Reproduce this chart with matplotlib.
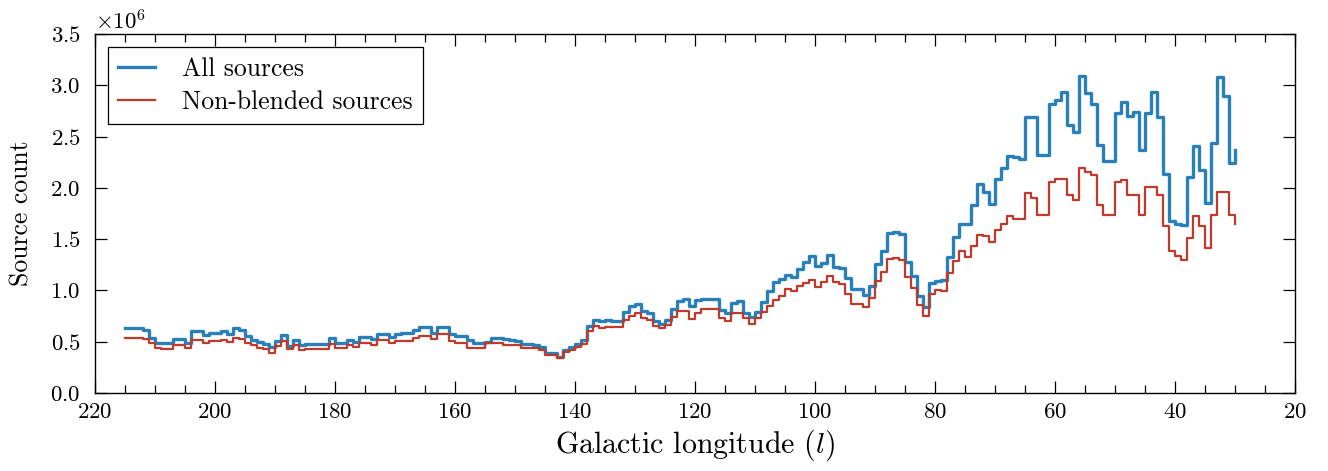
import numpy as np
import matplotlib
matplotlib.use("Agg")
import matplotlib.pyplot as plt
from matplotlib.ticker import MultipleLocator, ScalarFormatter

plt.rcParams['font.family'] = 'serif'
plt.rcParams['font.serif'] = ['cmr10', 'DejaVu Serif']
plt.rcParams['mathtext.fontset'] = 'cm'
plt.rcParams['axes.formatter.use_mathtext'] = True

# galactic longitude of each bin edge (1 deg bins, 215 -> 30)
longitude = np.arange(215, 29, -1)

# source counts per bin, in millions
all_sources = [
    0.63, 0.63, 0.63, 0.61, 0.54, 0.49, 0.49, 0.49, 0.53, 0.53,
    0.49, 0.60, 0.60, 0.57, 0.59, 0.59, 0.60, 0.58, 0.63, 0.61,
    0.56, 0.52, 0.50, 0.48, 0.45, 0.51, 0.57, 0.46, 0.52, 0.47,
    0.48, 0.48, 0.48, 0.48, 0.54, 0.49, 0.49, 0.52, 0.50, 0.55,
    0.55, 0.53, 0.58, 0.58, 0.55, 0.58, 0.59, 0.59, 0.61, 0.64,
    0.64, 0.59, 0.64, 0.64, 0.58, 0.56, 0.56, 0.52, 0.49, 0.49,
    0.50, 0.54, 0.54, 0.53, 0.52, 0.51, 0.48, 0.48, 0.47, 0.45,
    0.39, 0.39, 0.35, 0.42, 0.45, 0.48, 0.52, 0.65, 0.71, 0.70,
    0.71, 0.70, 0.70, 0.79, 0.85, 0.87, 0.80, 0.78, 0.70, 0.67,
    0.71, 0.82, 0.90, 0.92, 0.85, 0.91, 0.92, 0.92, 0.92, 0.81,
    0.78, 0.88, 0.90, 0.78, 0.74, 0.79, 0.89, 0.99, 1.08, 1.11,
    1.15, 1.13, 1.21, 1.28, 1.34, 1.24, 1.27, 1.35, 1.23, 1.22,
    1.12, 1.01, 1.01, 0.96, 1.04, 1.26, 1.38, 1.56, 1.57, 1.55,
    1.28, 1.14, 0.95, 0.84, 1.07, 1.09, 1.10, 1.33, 1.52, 1.65,
    1.65, 1.83, 2.04, 1.96, 1.84, 2.09, 2.19, 2.31, 2.30, 2.28,
    2.69, 2.69, 2.32, 2.32, 2.82, 2.86, 2.94, 2.61, 2.55, 3.09,
    2.93, 2.82, 2.42, 2.26, 2.26, 2.73, 2.84, 2.70, 2.74, 2.37,
    2.73, 2.94, 2.69, 2.14, 1.68, 1.65, 1.64, 2.11, 2.41, 2.17,
    1.85, 2.44, 3.08, 2.90, 2.24,
    2.37,
]

non_blended = [
    0.54, 0.54, 0.54, 0.53, 0.49, 0.44, 0.43, 0.43, 0.47, 0.47,
    0.44, 0.52, 0.52, 0.49, 0.51, 0.51, 0.52, 0.50, 0.54, 0.53,
    0.49, 0.47, 0.44, 0.43, 0.39, 0.46, 0.51, 0.43, 0.47, 0.42,
    0.43, 0.43, 0.43, 0.43, 0.48, 0.44, 0.44, 0.47, 0.45, 0.49,
    0.49, 0.47, 0.52, 0.52, 0.49, 0.51, 0.51, 0.51, 0.54, 0.56,
    0.56, 0.53, 0.58, 0.58, 0.51, 0.49, 0.49, 0.44, 0.44, 0.44,
    0.49, 0.49, 0.49, 0.47, 0.47, 0.47, 0.44, 0.44, 0.44, 0.42,
    0.37, 0.37, 0.34, 0.40, 0.42, 0.45, 0.48, 0.60, 0.65, 0.63,
    0.64, 0.64, 0.64, 0.71, 0.75, 0.78, 0.73, 0.71, 0.65, 0.63,
    0.66, 0.74, 0.80, 0.80, 0.72, 0.78, 0.82, 0.82, 0.82, 0.73,
    0.70, 0.78, 0.78, 0.73, 0.67, 0.73, 0.79, 0.85, 0.91, 0.95,
    1.01, 0.99, 1.04, 1.07, 1.10, 1.03, 1.08, 1.14, 1.08, 1.06,
    0.97, 0.87, 0.87, 0.84, 0.93, 1.09, 1.18, 1.31, 1.32, 1.30,
    1.13, 1.02, 0.86, 0.75, 0.97, 1.00, 0.99, 1.17, 1.29, 1.38,
    1.33, 1.43, 1.54, 1.53, 1.47, 1.59, 1.65, 1.73, 1.70, 1.70,
    1.95, 1.90, 1.74, 1.74, 2.06, 2.09, 2.09, 1.93, 1.88, 2.19,
    2.16, 2.13, 1.83, 1.74, 1.74, 2.06, 2.08, 1.93, 1.93, 1.74,
    2.01, 2.01, 1.93, 1.63, 1.38, 1.34, 1.30, 1.51, 1.73, 1.63,
    1.41, 1.74, 1.96, 1.96, 1.74,
    1.65,
]

fig = plt.figure(figsize=(13.28, 4.71), dpi=100)
ax = fig.add_axes([0.0713, 0.1656, 0.9036, 0.762])

ax.step(longitude, np.array(all_sources) * 1e6, where='post',
        color='#2980b9', lw=2.4, label='All sources')
ax.step(longitude, np.array(non_blended) * 1e6, where='post',
        color='#c0392b', lw=1.6, label='Non-blended sources')

ax.set_xlim(220, 20)
ax.set_ylim(0, 3.5e6)
ax.xaxis.set_major_locator(MultipleLocator(20))
ax.xaxis.set_minor_locator(MultipleLocator(5))
ax.yaxis.set_major_locator(MultipleLocator(0.5e6))
fmt = ScalarFormatter(useMathText=True)
fmt.set_powerlimits((0, 0))
ax.yaxis.set_major_formatter(fmt)
ax.yaxis.get_offset_text().set_fontsize(16.5)

ax.tick_params(which='both', direction='in', top=True, right=True, labelsize=16.5)
ax.tick_params(which='major', length=8.5, width=0.9)
ax.tick_params(which='minor', length=5.5, width=0.9)
ax.tick_params(axis='y', pad=10)
ax.tick_params(axis='x', pad=7)
for s in ax.spines.values():
    s.set_linewidth(1.0)

ax.set_xlabel('Galactic longitude ($l$)', fontsize=21.5)
ax.set_ylabel('Source count', fontsize=18.5, labelpad=12)

leg = ax.legend(loc='upper left', fontsize=18.5, fancybox=False, framealpha=1,
                edgecolor='black', handlelength=1.45, handletextpad=1.05,
                borderaxespad=0.5, labelspacing=0.35)
leg.get_frame().set_linewidth(0.9)

fig.savefig('out.png', dpi=100)
